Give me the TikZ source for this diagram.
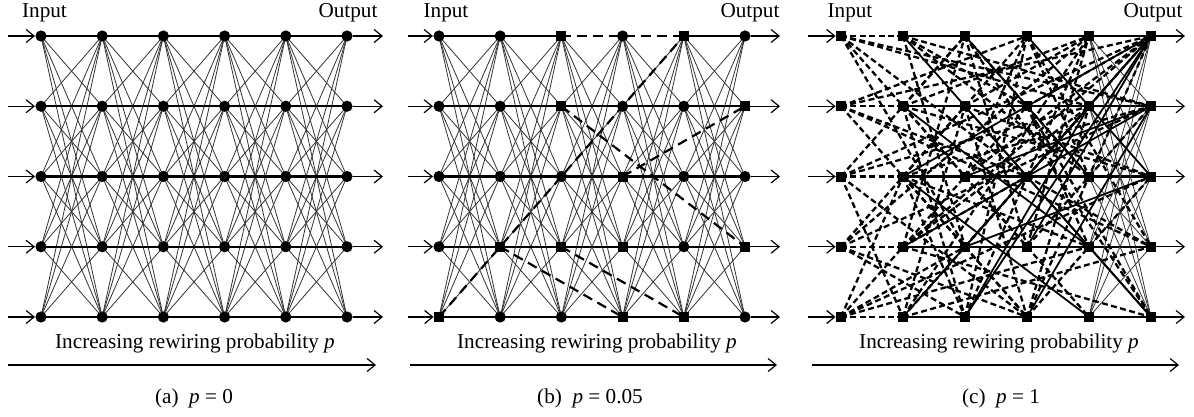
\documentclass[tikz,border=0pt]{standalone}
\usepackage{fontspec}
\setmainfont{Liberation Serif}
\usetikzlibrary{arrows.meta,backgrounds}
\begin{document}
\begin{tikzpicture}[x=0.5pt,y=-0.5pt,
  dot/.style={circle,fill=black,inner sep=0pt,minimum size=5.6pt},
  sq/.style={rectangle,fill=black,inner sep=0pt,minimum size=5pt},
  thinedge/.style={line width=0.4pt,black!80},
  rowline/.style={line width=1.1pt},
  arr/.style={line width=0.6pt,-{Straight Barb[length=4pt,width=6.5pt]}},
  bdash/.style={line width=1.1pt,dash pattern=on 5pt off 3pt},
  cdash/.style={line width=1.15pt,dash pattern=on 3pt off 1.7pt},
  csolid/.style={line width=0.9pt},
  lbl/.style={font=\fontsize{10.6}{12.7}\selectfont,inner sep=0pt,anchor=base},
  bs31/.style={sq},bs51/.style={sq},bs32/.style={sq},bs62/.style={sq},
  bs43/.style={sq},bs15/.style={sq},bs24/.style={sq},bs64/.style={sq},
  bs34/.style={sq},bs44/.style={sq},bs45/.style={sq},bs55/.style={sq}
]
\useasboundingbox (0,0) rectangle (1194,417);

% ---------------- nodes ----------------
\foreach \i in {1,...,6}{
  \foreach \j in {1,...,5}{
    \node[dot] (a-\i-\j) at ({41+61.2*(\i-1)},{36+70.25*(\j-1)}) {};
    \node[dot,bs\i\j/.try] (b-\i-\j) at ({439+61.2*(\i-1)},{36+70.25*(\j-1)}) {};
    \node[sq] (c-\i-\j) at ({841+62*(\i-1)},{36+70.25*(\j-1)}) {};
  }
}

% ---------------- edges ----------------
\begin{scope}[on background layer]
  % panel (a) and (b): fully connected layers
  \foreach \i in {1,...,5}{
    \pgfmathtruncatemacro\n{\i+1}
    \foreach \j in {1,...,5}{
      \foreach \k in {1,...,5}{
        \ifnum\j=\k\relax\else
          \draw[thinedge] (a-\i-\j.center) -- (a-\n-\k.center);
          \draw[thinedge] (b-\i-\j.center) -- (b-\n-\k.center);
        \fi
      }
    }
  }
  \foreach \j in {1,...,5}{
    \draw[rowline] (a-1-\j.center) -- (a-6-\j.center);
  }
  \foreach \j in {2,...,5}{
    \draw[rowline] (b-1-\j.center) -- (b-6-\j.center);
  }
  \draw[rowline] (b-1-1.center) -- (b-3-1.center);
  \draw[rowline] (b-5-1.center) -- (b-6-1.center);
  % panel (b): rewired edges
  \draw[bdash] (b-3-1.center) -- (b-5-1.center);
  \draw[bdash] (b-1-5.center) -- (b-5-1.center);
  \draw[bdash] (b-3-2.center) -- (b-6-4.center);
  \draw[bdash] (b-4-3.center) -- (b-6-2.center);
  \draw[bdash] (b-2-4.center) -- (b-4-5.center);
  \draw[bdash] (b-3-4.center) -- (b-5-5.center);
  \draw[bdash] (b-4-4.center) -- (b-5-4.center);

  % panel (c)
  \foreach \j in {1,...,5}{
    \draw[rowline] (c-2-\j.center) -- (c-6-\j.center);
    \foreach \k in {1,...,5}{
      \ifnum\j=\k\relax\else
        \draw[thinedge] (c-5-\j.center) -- (c-6-\k.center);
      \fi
    }
  }
  \foreach \s/\r/\t/\u in {
    2/2/5/4, 2/1/4/3, 3/2/6/5, 2/5/6/1, 3/5/6/1, 3/4/6/1, 4/4/6/1, 3/3/6/2,
    2/4/6/2, 4/5/6/2, 3/1/5/3, 4/1/6/3, 2/3/5/5, 4/3/6/5, 3/4/6/3, 2/3/6/1,
    3/5/5/2}{
    \draw[csolid] (c-\s-\r.center) -- (c-\t-\u.center);
  }
  \foreach \s/\r/\t/\u in {
    1/1/2/1, 1/1/3/3, 1/1/3/4, 1/1/4/3, 1/1/6/2, 1/1/5/2,
    1/2/2/2, 1/2/6/1, 1/2/4/1, 1/2/4/3, 1/2/6/4, 1/2/3/4,
    1/3/2/3, 1/3/3/1, 1/3/5/2, 1/3/6/1, 1/3/4/5, 1/3/2/5,
    1/4/2/4, 1/4/3/2, 1/4/5/1, 1/4/6/2, 1/4/4/5, 1/4/3/5,
    1/5/2/5, 1/5/2/3, 1/5/4/2, 1/5/6/3, 1/5/5/4, 1/5/3/4,
    2/1/4/2, 2/1/5/3, 2/1/3/4, 2/1/6/2,
    2/2/3/1, 2/2/5/1, 2/2/4/4, 2/2/6/3, 2/2/3/5,
    2/3/4/1, 2/3/6/2, 2/3/5/4, 2/3/3/5, 2/3/4/5,
    2/4/3/1, 2/4/5/2, 2/4/6/1, 2/4/4/3, 2/4/6/5,
    2/5/3/2, 2/5/5/1, 2/5/4/3, 2/5/6/4,
    3/1/5/3, 3/1/4/4, 3/1/6/5,
    3/2/5/1, 3/2/6/3, 3/2/4/5,
    3/3/4/1, 3/3/6/1, 3/3/5/5,
    3/4/5/2, 3/4/4/5,
    3/5/4/3, 3/5/4/1,
    4/1/5/3, 4/1/6/4,
    4/2/6/1, 4/2/5/4, 4/2/6/5,
    4/3/6/1, 4/3/5/1, 4/3/6/4,
    4/4/6/2, 4/4/5/1,
    4/5/6/3, 4/5/5/2, 4/5/6/1}{
    \draw[cdash] (c-\s-\r.center) -- (c-\t-\u.center);
  }
\end{scope}

% ---------------- input / output arrows ----------------
\foreach \p/\xin/\xout in {a/8/383, b/408/780, c/808/1185}{
  \foreach \j in {1,...,5}{
    \coordinate (\p in-\j) at (\xin,{36+70.25*(\j-1)});
    \coordinate (\p out-\j) at (\xout,{36+70.25*(\j-1)});
    \draw[arr] (\p in-\j) -- (\p-1-\j);
    \draw[arr] (\p-6-\j) -- (\p out-\j);
  }
}

% ---------------- labels ----------------
\node[lbl] (a-input) at (44.5,18) {Input};
\node[lbl] (a-output) at (348,18) {Output};
\node[lbl] (b-input) at (446,18) {Input};
\node[lbl] (b-output) at (750,18) {Output};
\node[lbl] (c-input) at (850,18) {Input};
\node[lbl] (c-output) at (1153,18) {Output};

\foreach \p/\xt/\xl/\xr/\xc/\cap in {a/195/8/376/194/{(a)\enspace\textit{p} = 0},
                                    b/597/410/777/590/{(b)\enspace\textit{p} = 0.05},
                                    c/999/812/1179/1001/{(c)\enspace\textit{p} = 1}}{
  \node[lbl] (\p-text) at (\xt,348) {Increasing rewiring probability \textit{p}};
  \coordinate (\p-left) at (\xl,365);
  \coordinate (\p-right) at (\xr,365);
  \draw[arr] (\p-left) -- (\p-right);
  \node[lbl] (\p-caption) at (\xc,403) {\cap};
}
\end{tikzpicture}
\end{document}
